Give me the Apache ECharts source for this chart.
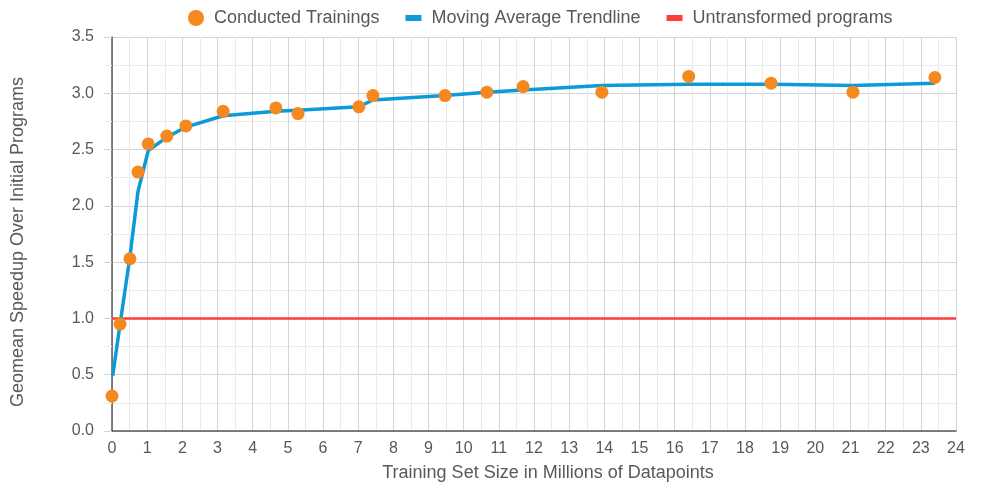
<!DOCTYPE html>
<html>
<head>
<meta charset="utf-8">
<script src="https://cdn.jsdelivr.net/npm/echarts@6/dist/echarts.min.js"></script>
<style>html,body{margin:0;padding:0;background:#fff}#c{width:996px;height:487px}</style>
</head>
<body>
<div id="c"></div>
<script>
// Conducted trainings (x in millions, y speedup)
const trainX = [0.0, 0.23, 0.51, 0.74, 1.03, 1.56, 2.1, 3.16, 4.66, 5.29, 7.02, 7.42, 9.47, 10.66, 11.69, 13.93, 16.4, 18.74, 21.07, 23.4];
const trainY = [0.31, 0.95, 1.53, 2.30, 2.55, 2.62, 2.71, 2.84, 2.87, 2.82, 2.88, 2.98, 2.98, 3.01, 3.06, 3.01, 3.15, 3.09, 3.01, 3.14];
// Moving average trendline vertices
const trendX = [0.02, 0.23, 0.51, 0.74, 1.03, 1.56, 2.1, 3.16, 4.66, 5.29, 7.02, 7.42, 9.47, 10.66, 11.69, 13.93, 16.4, 18.74, 21.07, 23.4];
const trendY = [0.49, 0.95, 1.55, 2.13, 2.49, 2.61, 2.70, 2.80, 2.84, 2.85, 2.88, 2.94, 2.98, 3.01, 3.03, 3.07, 3.08, 3.08, 3.07, 3.09];
// Untransformed baseline
const baseX = [0, 24];
const baseY = [1, 1];

const zip = (a, b) => a.map((v, i) => [v, b[i]]);
const textColor = '#595959';
const font = 'Liberation Sans, Arial, sans-serif';
const rectIcon = 'path://M0,0 L16,0 L16,6 L0,6 Z';

const chart = echarts.init(document.getElementById('c'), null, {renderer: 'canvas'});
chart.setOption({
  animation: false,
  textStyle: {fontFamily: font},
  legend: {
    top: 4, left: 183, itemGap: 26, itemWidth: 16, itemHeight: 16,
    textStyle: {color: textColor, fontSize: 18, fontFamily: font, padding: [0, 0, 0, 5]},
    data: [
      {name: 'Conducted Trainings', icon: 'circle'},
      {name: 'Moving Average Trendline', icon: rectIcon},
      {name: 'Untransformed programs', icon: rectIcon}
    ]
  },
  grid: {left: 112, right: 40, top: 37, bottom: 56, containLabel: false, outerBoundsMode: 'none'},
  xAxis: {
    type: 'value', min: 0, max: 24, interval: 1,
    name: 'Training Set Size in Millions of Datapoints',
    nameLocation: 'middle', nameGap: 33,
    nameTextStyle: {color: textColor, fontSize: 18, fontFamily: font, padding: [0, 0, 0, 28]},
    axisLine: {show: true, onZero: false, lineStyle: {color: '#595959', width: 1.5}},
    axisTick: {show: false},
    axisLabel: {color: textColor, fontSize: 16, margin: 10, fontFamily: font},
    splitLine: {show: true, lineStyle: {color: '#d4d4d4', width: 1}},
    minorTick: {show: false, splitNumber: 2},
    minorSplitLine: {show: true, lineStyle: {color: '#ebebeb', width: 1}}
  },
  yAxis: {
    type: 'value', min: 0, max: 3.5, interval: 0.5,
    name: 'Geomean Speedup Over Initial Programs',
    nameLocation: 'middle', nameGap: 85, nameRotate: 90,
    nameTextStyle: {color: textColor, fontSize: 18, fontFamily: font, padding: [0, 16, 0, 0]},
    axisLine: {show: true, onZero: false, lineStyle: {color: '#595959', width: 1.5}},
    axisTick: {show: true, length: 8, lineStyle: {color: '#d4d4d4'}},
    minorTick: {show: true, splitNumber: 2, length: 8, lineStyle: {color: '#ebebeb'}},
    axisLabel: {color: textColor, fontSize: 16, margin: 18, fontFamily: font,
      formatter: v => v.toFixed(1)},
    splitLine: {show: true, lineStyle: {color: '#d4d4d4', width: 1}},
    minorSplitLine: {show: true, lineStyle: {color: '#ebebeb', width: 1}}
  },
  series: [
    {
      name: 'Untransformed programs', type: 'line', data: zip(baseX, baseY),
      showSymbol: false, symbol: 'none', z: 2,
      lineStyle: {color: '#ff3b3b', width: 2.5}, itemStyle: {color: '#ff3b3b'}
    },
    {
      name: 'Moving Average Trendline', type: 'line', data: zip(trendX, trendY),
      showSymbol: false, symbol: 'none', z: 3,
      lineStyle: {color: '#0d9ad9', width: 3.5}, itemStyle: {color: '#0d9ad9'}
    },
    {
      name: 'Conducted Trainings', type: 'scatter', data: zip(trainX, trainY),
      symbolSize: 13, z: 4,
      itemStyle: {color: '#f5881f', opacity: 1}
    }
  ]
});
</script>
</body>
</html>
